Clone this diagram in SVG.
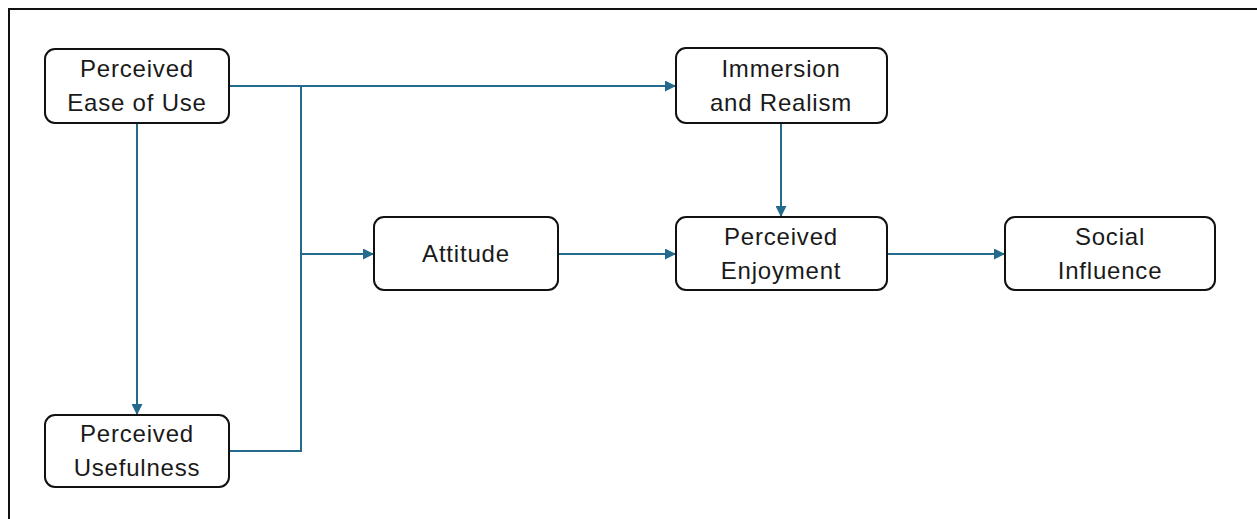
<svg xmlns="http://www.w3.org/2000/svg" width="1257" height="519" viewBox="0 0 1257 519">
<defs>
<style>
.node rect{fill:#fff;stroke:#111;stroke-width:2}
.node text{font-family:"Liberation Sans",Arial,sans-serif;font-size:24px;letter-spacing:0.8px;fill:#1a1a1a;text-anchor:middle}
.conn path{fill:none;stroke:#236a8c;stroke-width:2}
</style>
<marker id="arr" viewBox="0 0 10 10" refX="10" refY="5" markerWidth="5.5" markerHeight="5.5" orient="auto" markerUnits="strokeWidth">
<path d="M0,0 L10,5 L0,10 z" fill="#236a8c"/>
</marker>
</defs>
<rect x="0" y="0" width="1257" height="519" fill="#fff"/>
<path d="M9,519 V9 H1257" fill="none" stroke="#111" stroke-width="2"/>
<g class="conn">
<path d="M229,86 H676" marker-end="url(#arr)"/>
<path d="M301,86 V451 H229"/>
<path d="M301,254 H374" marker-end="url(#arr)"/>
<path d="M137,123 V415" marker-end="url(#arr)"/>
<path d="M558,254 H676" marker-end="url(#arr)"/>
<path d="M781,123 V217" marker-end="url(#arr)"/>
<path d="M887,254 H1005" marker-end="url(#arr)"/>
</g>
<g id="peou" class="node"><rect x="45" y="49" width="184" height="74" rx="10"/><text x="137" y="77">Perceived</text><text x="137" y="111">Ease of Use</text></g>
<g id="pu" class="node"><rect x="45" y="415" width="184" height="72" rx="10"/><text x="137" y="442">Perceived</text><text x="137" y="476">Usefulness</text></g>
<g id="att" class="node"><rect x="374" y="217" width="184" height="73" rx="10"/><text x="466" y="262">Attitude</text></g>
<g id="imm" class="node"><rect x="676" y="48" width="211" height="75" rx="10"/><text x="781" y="77">Immersion</text><text x="781" y="111">and Realism</text></g>
<g id="pe" class="node"><rect x="676" y="217" width="211" height="73" rx="10"/><text x="781" y="245">Perceived</text><text x="781" y="279">Enjoyment</text></g>
<g id="si" class="node"><rect x="1005" y="217" width="210" height="73" rx="10"/><text x="1110" y="245">Social</text><text x="1110" y="279">Influence</text></g>
</svg>
